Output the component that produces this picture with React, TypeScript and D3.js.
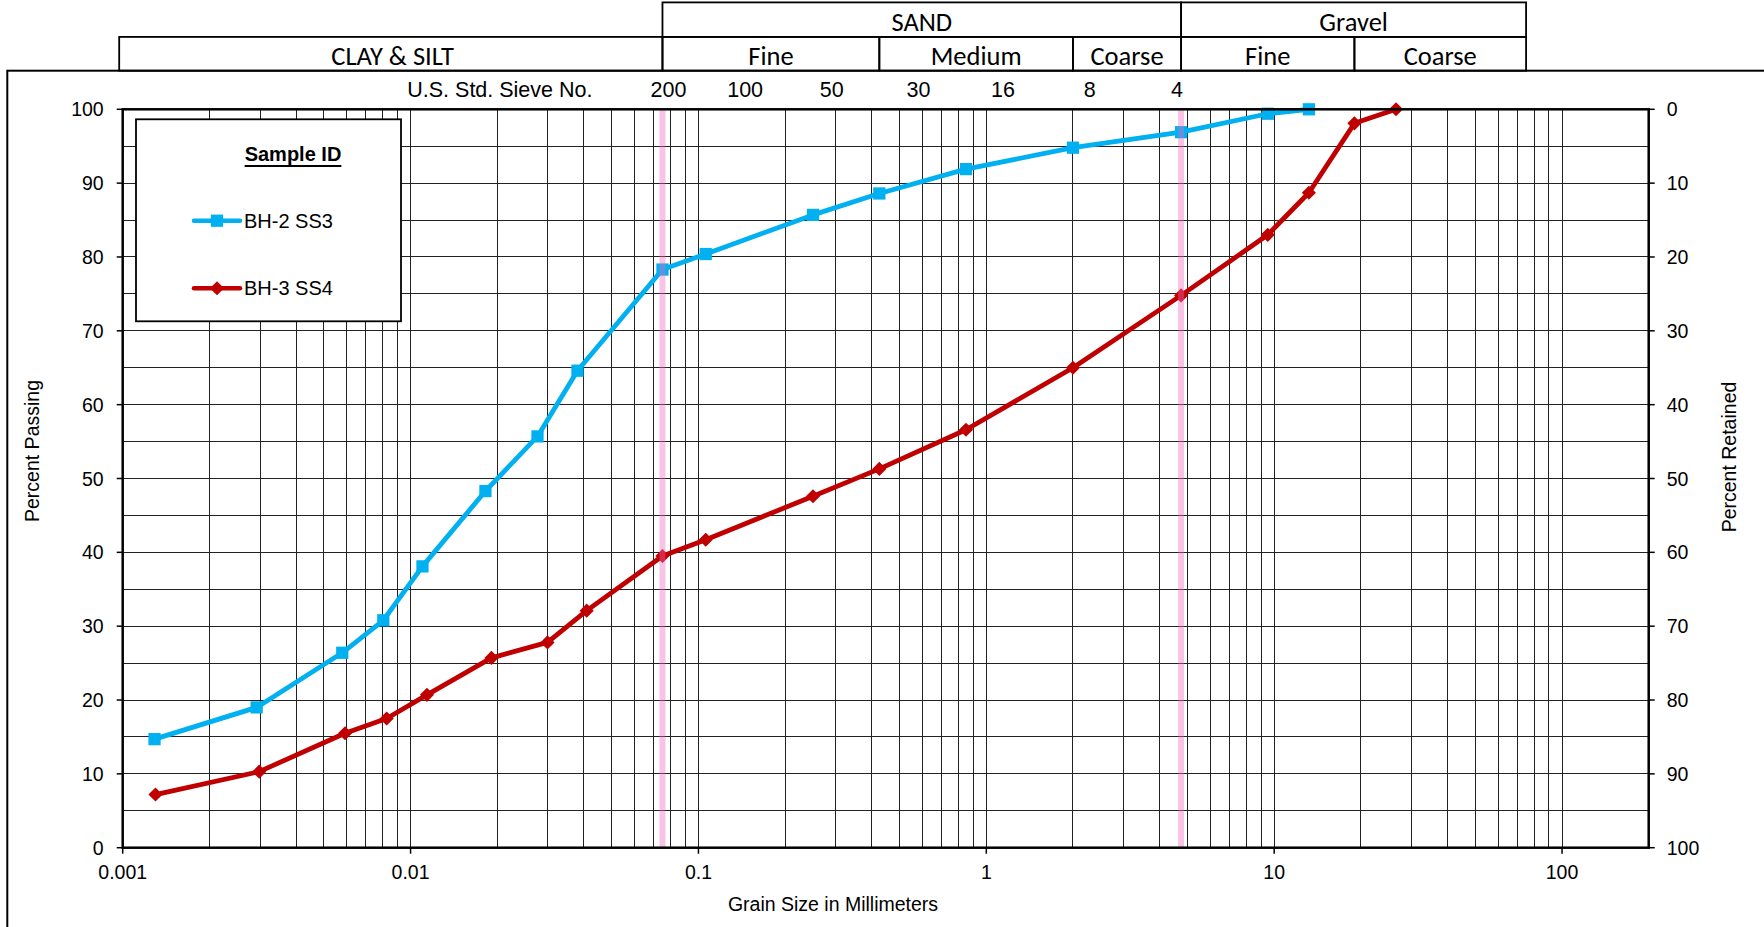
import React from 'react'
import * as d3 from 'd3'

// grain size (mm) and percent passing
const bh2Size = [0.00129, 0.00292, 0.00579, 0.00804, 0.011, 0.0182, 0.0276, 0.038, 0.075, 0.106, 0.25, 0.425, 0.85, 2.0, 4.75, 9.5, 13.2]
const bh2Pass = [14.7, 19.0, 26.4, 30.8, 38.1, 48.3, 55.7, 64.6, 78.3, 80.4, 85.7, 88.6, 91.9, 94.8, 96.9, 99.4, 100]
const bh3Size = [0.0013, 0.00298, 0.00592, 0.00826, 0.0114, 0.0191, 0.0299, 0.0409, 0.075, 0.106, 0.25, 0.425, 0.85, 2.0, 4.75, 9.5, 13.2, 19.0, 26.5]
const bh3Pass = [7.2, 10.3, 15.5, 17.5, 20.7, 25.7, 27.8, 32.1, 39.5, 41.7, 47.6, 51.3, 56.6, 65.0, 74.8, 83.0, 88.7, 98.1, 100]

const sieveNames = ['200', '100', '50', '30', '16', '8', '4']
const sieveSizes = [0.075, 0.15, 0.3, 0.6, 1.18, 2.36, 4.75]

const topBands = [
  { label: 'SAND', from: 0.075, to: 4.75 },
  { label: 'Gravel', from: 4.75, to: 75 },
]
const subBands = [
  { label: 'CLAY & SILT', from: 0.001, to: 0.075 },
  { label: 'Fine', from: 0.075, to: 0.425 },
  { label: 'Medium', from: 0.425, to: 2 },
  { label: 'Coarse', from: 2, to: 4.75 },
  { label: 'Fine', from: 4.75, to: 19 },
  { label: 'Coarse', from: 19, to: 75 },
]
const markerLines = [0.075, 4.75]
const xTicks = [0.001, 0.01, 0.1, 1, 10, 100]
const yTicks = [0, 10, 20, 30, 40, 50, 60, 70, 80, 90, 100]

const W = 1764
const H = 927
const L = 122.7
const R = 1648.7
const T = 109.3
const B = 847.7
const ROW0 = 2.4
const ROW1 = 36.9
const ROW2 = 70.7

const BLUE = '#00b0f0'
const RED = '#c00000'
const FONT = '"Liberation Sans", Arial, sans-serif'
const HFONT = 'Carlito, Calibri, Lato, sans-serif'

export default function App() {
  const x = d3.scaleLog().domain([0.001, 200]).range([L, R])
  const y = d3.scaleLinear().domain([0, 100]).range([B, T])

  const vGrid: number[] = []
  for (let k = -3; k <= 2; k++) {
    for (let m = 1; m <= 9; m++) {
      const v = +(m * Math.pow(10, k)).toPrecision(6)
      if (v <= 200) vGrid.push(v)
    }
  }
  const hGrid = d3.range(0, 101, 5)

  const line = d3
    .line<[number, number]>()
    .x((d) => x(d[0]))
    .y((d) => y(d[1]))

  const bh2 = bh2Size.map((s, i) => [s, bh2Pass[i]] as [number, number])
  const bh3 = bh3Size.map((s, i) => [s, bh3Pass[i]] as [number, number])

  const square = d3.symbol(d3.symbolSquare, 150)()
  const diamond = d3.symbol(d3.symbolSquare, 100)()

  return (
    <svg
      width={W}
      height={H}
      style={{ position: 'absolute', left: 0, top: 0, display: 'block', background: '#fff' }}
    >
      {/* outer frame */}
      <rect x={7.3} y={ROW2} width={W + 20} height={H} fill="none" stroke="#000" strokeWidth={2} />

      {/* soil classification header */}
      <g stroke="#000" strokeWidth={1.8} fill="none">
        {topBands.map((b, i) => (
          <rect key={'t' + i} x={x(b.from)} y={ROW0} width={x(b.to) - x(b.from)} height={ROW1 - ROW0} />
        ))}
        {subBands.map((b, i) => (
          <rect
            key={'s' + i}
            x={i === 0 ? x(b.from) - 3.5 : x(b.from)}
            y={ROW1}
            width={x(b.to) - x(b.from) + (i === 0 ? 3.5 : 0)}
            height={ROW2 - ROW1}
          />
        ))}
      </g>
      <g fontFamily={HFONT} fontSize={26.5} textAnchor="middle" fill="#000">
        {topBands.map((b, i) => (
          <text key={'tt' + i} x={(x(b.from) + x(b.to)) / 2} y={(ROW0 + ROW1) / 2 + 2} dominantBaseline="central">
            {b.label}
          </text>
        ))}
        {subBands.map((b, i) => (
          <text key={'st' + i} x={(x(b.from) + x(b.to)) / 2} y={(ROW1 + ROW2) / 2 + 2} dominantBaseline="central">
            {b.label}
          </text>
        ))}
      </g>

      {/* sieve numbers */}
      <g fontFamily={FONT} fontSize={21.5} fill="#000">
        <text x={x(0.075) - 70} y={90} textAnchor="end" dominantBaseline="central">
          U.S. Std. Sieve No.
        </text>
        {sieveNames.map((n, i) => (
          <text
            key={n}
            x={x(sieveSizes[i]) + (i === 0 ? 6 : -4)}
            y={90}
            textAnchor="middle"
            dominantBaseline="central"
          >
            {n}
          </text>
        ))}
      </g>

      {/* grid */}
      <g stroke="#222" strokeWidth={1} shapeRendering="crispEdges">
        {vGrid.map((v) => (
          <line key={'v' + v} x1={x(v)} x2={x(v)} y1={T} y2={B} />
        ))}
        {hGrid.map((v) => (
          <line key={'h' + v} x1={L} x2={R} y1={y(v)} y2={y(v)} />
        ))}
      </g>

      {/* axis ticks */}
      <g stroke="#000" strokeWidth={1.5}>
        {yTicks.map((v) => (
          <g key={'yt' + v}>
            <line x1={L - 6} x2={L} y1={y(v)} y2={y(v)} />
            <line x1={R} x2={R + 6} y1={y(v)} y2={y(v)} />
          </g>
        ))}
        {xTicks.map((v) => (
          <line key={'xt' + v} x1={x(v)} x2={x(v)} y1={B} y2={B + 6} />
        ))}
      </g>
      <g fontFamily={FONT} fontSize={19.5} fill="#000">
        {yTicks.map((v) => (
          <text key={'yl' + v} x={L - 19} y={y(v)} textAnchor="end" dominantBaseline="central">
            {v}
          </text>
        ))}
        {yTicks.map((v) => (
          <text key={'yr' + v} x={R + 18} y={y(v)} textAnchor="start" dominantBaseline="central">
            {100 - v}
          </text>
        ))}
        {xTicks.map((v) => (
          <text key={'xl' + v} x={x(v)} y={872} textAnchor="middle" dominantBaseline="central">
            {String(v)}
          </text>
        ))}
        <text x={833} y={904} textAnchor="middle" dominantBaseline="central">
          Grain Size in Millimeters
        </text>
        <text
          transform={`translate(31.5,451) rotate(-90)`}
          textAnchor="middle"
          dominantBaseline="central"
        >
          Percent Passing
        </text>
        <text
          transform={`translate(1729,457) rotate(-90)`}
          textAnchor="middle"
          dominantBaseline="central"
        >
          Percent Retained
        </text>
      </g>

      {/* series */}
      <path d={line(bh2) || ''} fill="none" stroke={BLUE} strokeWidth={4.8} strokeLinejoin="round" />
      {bh2.map((d, i) => (
        <path key={'m2' + i} d={square || ''} transform={`translate(${x(d[0])},${y(d[1])})`} fill={BLUE} />
      ))}
      <path d={line(bh3) || ''} fill="none" stroke={RED} strokeWidth={4.8} strokeLinejoin="round" />
      {bh3.map((d, i) => (
        <path
          key={'m3' + i}
          d={diamond || ''}
          transform={`translate(${x(d[0])},${y(d[1])}) rotate(45)`}
          fill={RED}
        />
      ))}

      {/* No. 200 and No. 4 boundaries */}
      {markerLines.map((v) => (
        <rect key={'p' + v} x={x(v) - 3} y={T} width={6} height={B - T} fill="#f06ac0" opacity={0.4} />
      ))}

      {/* plot frame */}
      <rect x={L} y={T} width={R - L} height={B - T} fill="none" stroke="#000" strokeWidth={2.5} />

      {/* legend */}
      <rect x={136} y={119.3} width={265} height={202} fill="#fff" stroke="#000" strokeWidth={1.8} />
      <text
        x={293}
        y={154}
        fontFamily={FONT}
        fontSize={20}
        fontWeight="bold"
        textAnchor="middle"
        dominantBaseline="central"
        textDecoration="underline"
      >
        Sample ID
      </text>
      <g fontFamily={FONT} fontSize={20}>
        <line x1={194} x2={240} y1={220.7} y2={220.7} stroke={BLUE} strokeWidth={4.5} strokeLinecap="round" />
        <path d={square || ''} transform="translate(217,220.7)" fill={BLUE} />
        <text x={244} y={220.7} dominantBaseline="central">
          BH-2 SS3
        </text>
        <line x1={194} x2={240} y1={288.3} y2={288.3} stroke={RED} strokeWidth={4.5} strokeLinecap="round" />
        <path d={diamond || ''} transform="translate(217,288.3) rotate(45)" fill={RED} />
        <text x={244} y={288.3} dominantBaseline="central">
          BH-3 SS4
        </text>
      </g>
    </svg>
  )
}
